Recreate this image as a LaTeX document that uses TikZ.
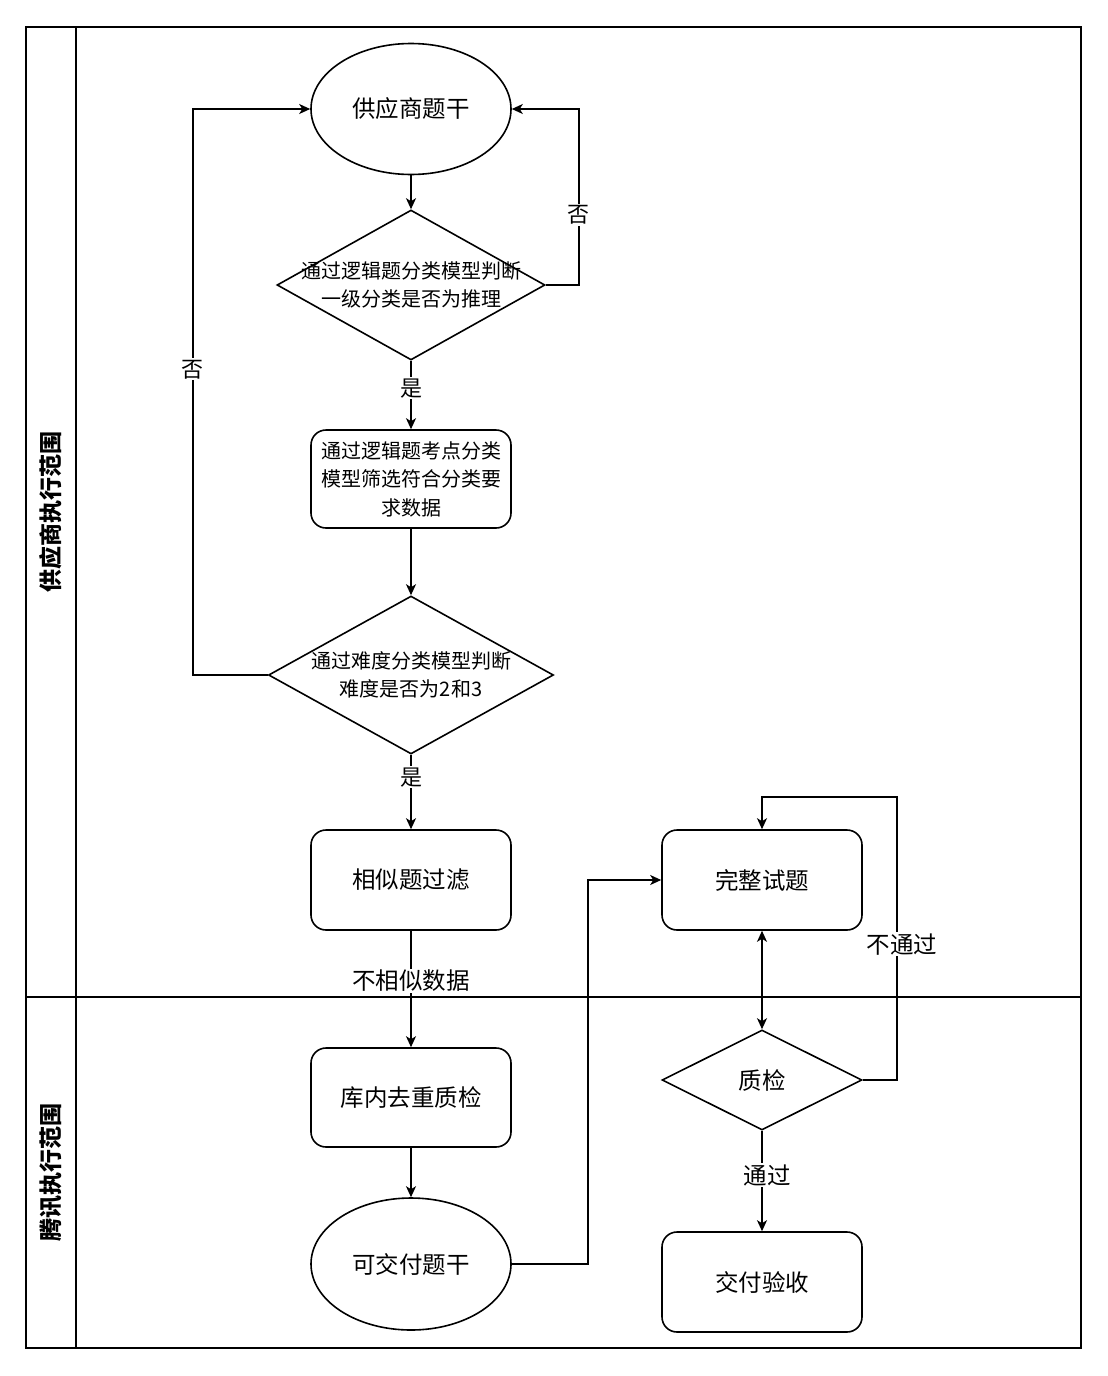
\documentclass[tikz,border=0pt]{standalone}
\usepackage{fontspec}
\setmainfont{Noto Sans CJK SC}
\usetikzlibrary{shapes.geometric,arrows.meta}
\begin{document}
\begin{tikzpicture}[x=1pt,y=-1pt,line width=1.6pt,
  box/.style={draw,rectangle,rounded corners=15pt,minimum width=200pt,minimum height=100pt,inner sep=0pt,align=center,font=\fontsize{23.5}{28}\selectfont},
  smallbox/.style={box,font=\fontsize{20}{28.5}\selectfont},
  oval/.style={draw,ellipse,minimum width=200pt,minimum height=131pt,inner sep=0pt,font=\fontsize{23.5}{28}\selectfont},
  dia/.style={draw,diamond,inner sep=0pt},
  diatext/.style={align=center,font=\fontsize{20}{27.5}\selectfont},
  diabig/.style={align=center,font=\fontsize{23.5}{28}\selectfont},
  arr/.style={-{Stealth[length=11pt,width=10pt,inset=3pt]}},
  darr/.style={{Stealth[length=11pt,width=10pt,inset=3pt]}-{Stealth[length=11pt,width=10pt,inset=3pt]}},
  lbl/.style={fill=white,inner sep=1.5pt,font=\fontsize{22}{26}\selectfont},
  lblbig/.style={fill=white,inner sep=1.5pt,font=\fontsize{23.5}{28}\selectfont},
  lane/.style={rotate=90,font=\bfseries\fontsize{23}{28}\selectfont}
]
\useasboundingbox (0,0) rectangle (1108,1376);
\fill[white] (0,0) rectangle (1108,1376);

% swimlane frame
\draw (26,27) rectangle (1081,1348);
\draw (76,27) -- (76,1348);
\draw (26,997) -- (1081,997);
\node[lane] (lane1) at (51,512) {供应商执行范围};
\node[lane] (lane2) at (51,1172) {腾讯执行范围};

% nodes
\node[oval] (e1) at (411,109) {供应商题干};
\node[dia,minimum width=268pt,minimum height=150pt,
      label={[diatext]center:{通过逻辑题分类模型判断\\一级分类是否为推理}}] (d1) at (411,285) {};
\node[smallbox,minimum height=98pt] (r2) at (411,479) {通过逻辑题考点分类\\模型筛选符合分类要\\求数据};
\node[dia,minimum width=285pt,minimum height=158pt,
      label={[diatext]center:{通过难度分类模型判断\\难度是否为2和3}}] (d2) at (411,675) {};
\node[box] (r3) at (411,880) {相似题过滤};
\node[box,minimum height=99pt] (r4) at (411,1097.5) {库内去重质检};
\node[oval,minimum height=132pt] (e2) at (411,1264) {可交付题干};
\node[box] (r5) at (762,880) {完整试题};
\node[dia,minimum width=200pt,minimum height=100pt,
      label={[diabig]center:{质检}}] (d3) at (762,1080) {};
\node[box] (r6) at (762,1282) {交付验收};

% connectors
\draw[arr] (e1.south) -- (d1.north);
\draw[arr] (d1.east) -- ++(33,0) |- node[lbl,pos=0.2] {否} (e1.east);
\draw[arr] (d1.south) -- node[lbl,pos=0.4] {是} (r2.north);
\draw[arr] (r2.south) -- (d2.north);
\draw[arr] (d2.west) -- ++(-75,0) |- node[lbl,pos=0.27] {否} (e1.west);
\draw[arr] (d2.south) -- node[lbl,pos=0.3] {是} (r3.north);
\draw[arr] (r3.south) -- node[lblbig,pos=0.43] {不相似数据} (r4.north);
\draw[arr] (r4.south) -- (e2.north);
\draw[arr] (e2.east) -- ++(76,0) |- (r5.west);
\draw[darr] (r5.south) -- (d3.north);
\draw[arr] (d3.east) -- ++(34,0) -- node[lblbig,pos=0.48,xshift=5pt] {不通过} ++(0,-283) -| (r5.north);
\draw[arr] (d3.south) -- node[lblbig,pos=0.44,xshift=5pt] {通过} (r6.north);
\end{tikzpicture}
\end{document}
